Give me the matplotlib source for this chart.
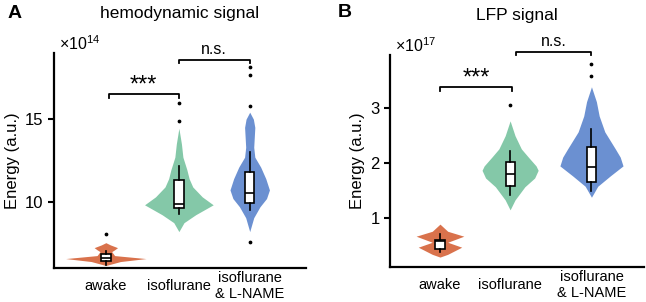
import numpy as np
import matplotlib.pyplot as plt

plt.rcParams['font.family'] = ['Liberation Sans', 'DejaVu Sans']
plt.rcParams['mathtext.fontset'] = 'custom'
plt.rcParams['mathtext.rm'] = 'Liberation Sans'

groups = ['awake', 'isoflurane', 'isoflurane\n& L-NAME']
colors = ['#D9724C', '#84C8A8', '#6B90D1']

# violin outlines: (value, half width) pairs
hemo_violins = [
    ([6.15, 6.39, 6.57, 6.75, 6.99, 7.1, 7.23, 7.4, 7.53],
     [0.0, 0.2, 0.55, 0.12, 0.08, 0.12, 0.16, 0.06, 0.0]),
    ([8.2, 8.74, 9.22, 9.82, 10.3, 10.9, 11.4, 11.93, 12.7, 13.5, 14.45],
     [0.0, 0.07, 0.23, 0.47, 0.32, 0.19, 0.14, 0.11, 0.055, 0.035, 0.0]),
    ([8.2, 9.04, 9.7, 10.2, 10.72, 11.4, 12.1, 12.7, 13.3, 14.5, 15.0, 15.42],
     [0.0, 0.055, 0.14, 0.23, 0.27, 0.22, 0.15, 0.07, 0.055, 0.07, 0.05, 0.0]),
]
lfp_violins = [
    ([0.28, 0.33, 0.46, 0.55, 0.66, 0.75, 0.88],
     [0.0, 0.11, 0.31, 0.11, 0.34, 0.11, 0.0]),
    ([1.14, 1.32, 1.56, 1.72, 1.86, 1.94, 2.1, 2.25, 2.49, 2.76],
     [0.0, 0.07, 0.21, 0.35, 0.4, 0.37, 0.26, 0.16, 0.07, 0.0]),
    ([1.37, 1.57, 1.76, 1.94, 2.1, 2.25, 2.56, 2.85, 3.11, 3.38],
     [0.0, 0.09, 0.27, 0.45, 0.41, 0.34, 0.19, 0.11, 0.07, 0.0]),
]

# box stats: whislo, q1, med, q3, whishi, outliers
hemo_boxes = [
    (6.2, 6.45, 6.63, 6.87, 7.05, [8.07]),
    (9.28, 9.64, 9.88, 11.32, 12.17, [14.87, 15.96]),
    (9.52, 9.94, 10.54, 11.8, 13.0, [7.59, 15.78, 17.65, 18.13]),
]
lfp_boxes = [
    (0.37, 0.42, 0.57, 0.60, 0.70, []),
    (1.41, 1.57, 1.79, 2.01, 2.21, [3.04]),
    (1.48, 1.65, 1.92, 2.29, 2.61, [3.57, 3.80]),
]

fig = plt.figure(figsize=(6.46, 3.02), dpi=100)
axA = fig.add_axes([0.0836, 0.1126, 0.39, 0.712])
axB = fig.add_axes([0.604, 0.116, 0.393, 0.702])


def draw_panel(ax, pos, violins, boxes, ylim, xlim, yticks, exp, title):
    for p, (vals, hw), c in zip(pos, violins, colors):
        vals = np.array(vals)
        hw = np.array(hw)
        ax.fill_betweenx(vals, p - hw, p + hw, color=c, lw=0)
    stats = []
    for lo, q1, med, q3, hi, fl in boxes:
        stats.append(dict(whislo=lo, q1=q1, med=med, q3=q3, whishi=hi, fliers=fl))
    ax.bxp(stats, positions=pos, widths=0.13, patch_artist=True, showcaps=False,
           boxprops=dict(facecolor='white', edgecolor='black', lw=1.2),
           medianprops=dict(color='black', lw=1.2),
           whiskerprops=dict(color='black', lw=1.2),
           flierprops=dict(marker='o', markersize=1.7, markerfacecolor='black',
                           markeredgecolor='black'))
    ax.set_xlim(xlim)
    ax.set_ylim(ylim)
    ax.set_yticks(yticks)
    ax.set_xticks(pos)
    ax.set_xticklabels(groups, fontsize=10.5, va='center', linespacing=1.2)
    ax.tick_params(axis='x', length=0, pad=13)
    ax.tick_params(axis='y', length=4, width=1.5, labelsize=12)
    for s in ['top', 'right']:
        ax.spines[s].set_visible(False)
    for s in ['left', 'bottom']:
        ax.spines[s].set_linewidth(1.6)
    ax.set_ylabel('Energy (a.u.)', fontsize=12)
    ax.text(0.02, 1.0, r'$\times10^{%d}$' % exp, transform=ax.transAxes,
            fontsize=11.5, va='bottom', ha='left')
    ax.set_title(title, fontsize=12.5, pad=25)


draw_panel(axA, [0, 1, 1.97], hemo_violins, hemo_boxes, (6.0, 19.0), (-0.71, 2.74),
           [10, 15], 14, 'hemodynamic signal')
draw_panel(axB, [0, 1, 2.16], lfp_violins, lfp_boxes, (0.1, 3.96), (-0.71, 2.91),
           [1, 2, 3], 17, 'LFP signal')


def bracket(ax, x1, x2, y, h, label, dy, fs):
    ax.plot([x1, x1, x2, x2], [y - h, y, y, y - h], color='black', lw=1.3,
            clip_on=False)
    ax.text((x1 + x2) / 2, y + dy, label, ha='center', va='bottom', fontsize=fs)


bracket(axA, 0.04, 1.0, 16.5, 0.2, '***', -0.15, 17)
bracket(axA, 1.0, 1.97, 18.6, 0.2, 'n.s.', 0.15, 11.5)
bracket(axB, 0.0, 1.03, 3.37, 0.06, '***', -0.04, 17)
bracket(axB, 1.09, 2.16, 4.02, 0.06, 'n.s.', 0.04, 11.5)

fig.text(0.012, 0.955, 'A', fontsize=14, fontweight='bold', va='center')
fig.text(0.523, 0.96, 'B', fontsize=14, fontweight='bold', va='center')

fig.savefig('out.png', dpi=100)
